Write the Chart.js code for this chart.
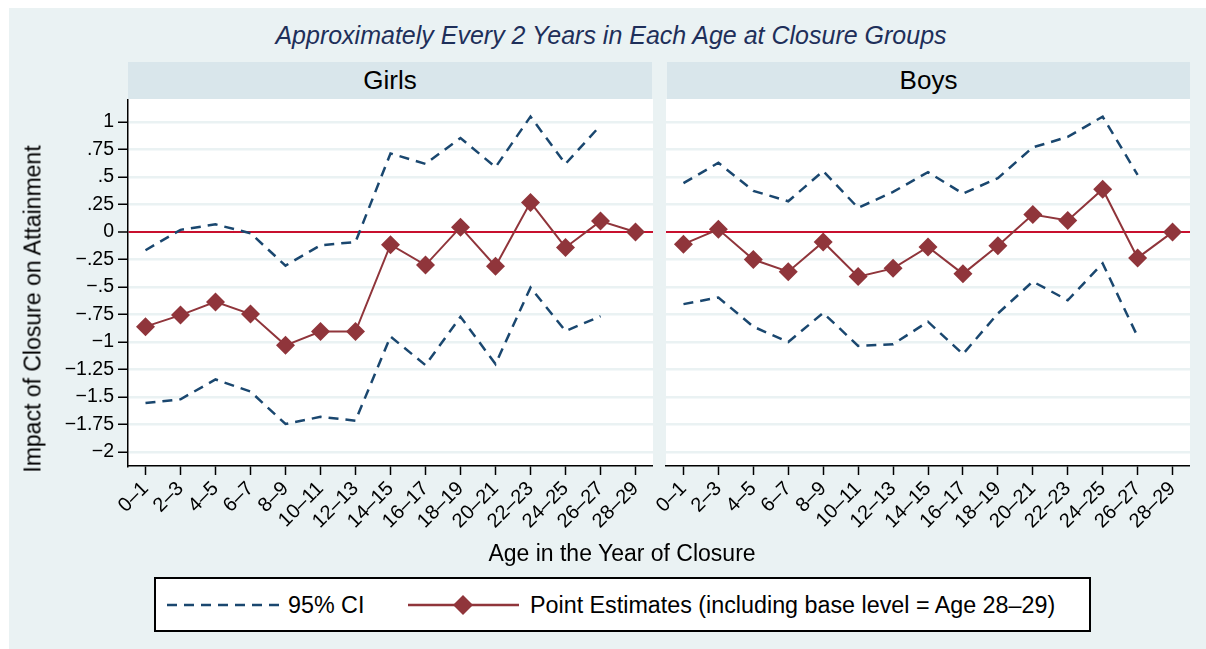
<!DOCTYPE html>
<html>
<head>
<meta charset="utf-8">
<script src="https://cdn.jsdelivr.net/npm/chart.js@4.4.1/dist/chart.umd.min.js"></script>
<style>
    body { margin: 0; background: #fff; font-family: "Liberation Sans", Arial, sans-serif; }
    #wrap { position: relative; width: 1206px; height: 649px; overflow: hidden; background: #fff; }
    #bg { position: absolute; left: 9px; top: 8px; right: 0; bottom: 0; background: #eaf2f3; }
    .abs { position: absolute; }
    #title { left: 0; width: 1222px; top: 21px; line-height: 28px; text-align: center;
             font-size: 25px; font-style: italic; color: #1e2f5a; }
    .strip { top: 62px; height: 37px; line-height: 37px; background: #d9e6eb; text-align: center;
             font-size: 26px; color: #000; }
    #ytitle { left: 33px; top: 309px; transform: translate(-50%, -50%) rotate(-90deg);
              white-space: nowrap; font-size: 23px; }
    #xtitle { left: 0; width: 1244px; top: 539px; line-height: 28px; text-align: center; font-size: 23px; }
    #legend { left: 154px; top: 577px; width: 933px; height: 51px; background: #fff; border: 2px solid #000; }
    .ltext { top: 12px; line-height: 28px; font-size: 23.3px; white-space: nowrap; }
    canvas { position: absolute; }
</style>
</head>
<body>
<div id="wrap">
    <div id="bg"></div>
    <div id="title" class="abs">Approximately Every 2 Years in Each Age at Closure Groups</div>
    <div class="abs strip" style="left:128px;width:524px">Girls</div>
    <div class="abs strip" style="left:667px;width:523px">Boys</div>
    <canvas id="girlsChart" width="623" height="442" style="left:30px;top:99px"></canvas>
    <canvas id="boysChart" width="550" height="442" style="left:640px;top:99px"></canvas>
    <div id="ytitle" class="abs">Impact of Closure on Attainment</div>
    <div id="xtitle" class="abs">Age in the Year of Closure</div>
    <div id="legend" class="abs">
        <svg class="abs" style="left:11px;top:14px" width="112" height="24">
            <line x1="0" y1="12" x2="112" y2="12" stroke="#1a476f" stroke-width="2.5" stroke-dasharray="10,7"/>
        </svg>
        <div class="abs ltext" style="left:132px">95% CI</div>
        <svg class="abs" style="left:252px;top:2px" width="111" height="48">
            <line x1="0" y1="24" x2="111" y2="24" stroke="#90353b" stroke-width="2.5"/>
            <polygon points="55,14 65,24 55,34 45,24" fill="#90353b"/>
        </svg>
        <div class="abs ltext" style="left:374px">Point Estimates (including base level = Age 28&#8211;29)</div>
    </div>
</div>
<script>
const ageGroups = ['0–1', '2–3', '4–5', '6–7', '8–9', '10–11', '12–13', '14–15',
                   '16–17', '18–19', '20–21', '22–23', '24–25', '26–27', '28–29'];

const girlsEst   = [-0.86, -0.755, -0.635, -0.745, -1.03, -0.905, -0.905, -0.115, -0.3, 0.045, -0.31, 0.27, -0.14, 0.1, 0];
const girlsUpper = [-0.165, 0.02, 0.07, -0.01, -0.305, -0.12, -0.09, 0.715, 0.62, 0.855, 0.59, 1.05, 0.62, 0.97, null];
const girlsLower = [-1.555, -1.52, -1.34, -1.45, -1.745, -1.68, -1.715, -0.95, -1.21, -0.77, -1.2, -0.505, -0.9, -0.765, null];

const boysEst   = [-0.11, 0.025, -0.25, -0.36, -0.09, -0.405, -0.33, -0.135, -0.38, -0.125, 0.16, 0.105, 0.39, -0.235, 0];
const boysUpper = [0.445, 0.63, 0.375, 0.28, 0.555, 0.22, 0.365, 0.545, 0.35, 0.49, 0.77, 0.865, 1.05, 0.52, null];
const boysLower = [-0.655, -0.595, -0.86, -1.0, -0.735, -1.035, -1.02, -0.815, -1.11, -0.74, -0.45, -0.62, -0.285, -0.95, null];

const yTicks = [1, 0.75, 0.5, 0.25, 0, -0.25, -0.5, -0.75, -1, -1.25, -1.5, -1.75, -2];

const ciColor = '#1a476f';
const estColor = '#90353b';
const zeroColor = '#c8102e';
const gridColor = '#eaf2f3';

// Stata style labels: ".25", "−1.25"
function stataNum(v) {
    if (v === 0) return '0';
    let s = Math.abs(v).toString().replace(/^0\./, '.');
    return (v < 0 ? '\u2212' : '') + s;
}

const plotBackground = {
    id: 'plotBackground',
    beforeDraw(chart) {
        const a = chart.chartArea;
        const ctx = chart.ctx;
        ctx.save();
        ctx.fillStyle = '#fff';
        ctx.fillRect(a.left, a.top, a.right - a.left, a.bottom - a.top);
        ctx.restore();
    }
};

function makePanel(id, est, upper, lower, showY) {
    const ctx = document.getElementById(id).getContext('2d');
    return new Chart(ctx, {
        type: 'line',
        data: {
            labels: ageGroups,
            datasets: [
                {
                    label: 'Point Estimates',
                    data: est,
                    borderColor: estColor,
                    borderWidth: 2,
                    pointStyle: 'rectRot',
                    pointRadius: 9.5,
                    pointBackgroundColor: estColor,
                    pointBorderWidth: 0,
                    tension: 0,
                    order: 0
                },
                {
                    label: 'Upper CI',
                    data: upper,
                    borderColor: ciColor,
                    borderWidth: 2.5,
                    borderDash: [10, 7],
                    pointRadius: 0,
                    tension: 0,
                    order: 1
                },
                {
                    label: 'Lower CI',
                    data: lower,
                    borderColor: ciColor,
                    borderWidth: 2.5,
                    borderDash: [10, 7],
                    pointRadius: 0,
                    tension: 0,
                    order: 1
                }
            ]
        },
        options: {
            responsive: false,
            animation: false,
            devicePixelRatio: 1,
            layout: { padding: 0, autoPadding: false },
            plugins: {
                legend: { display: false },
                tooltip: { enabled: false }
            },
            scales: {
                x: {
                    type: 'category',
                    offset: true,
                    grid: {
                        offset: false,
                        drawOnChartArea: false,
                        drawTicks: true,
                        tickLength: 9,
                        tickColor: '#000',
                        tickWidth: 1.5
                    },
                    border: { display: true, color: '#000', width: 1.5 },
                    ticks: {
                        autoSkip: false,
                        minRotation: 45,
                        maxRotation: 45,
                        padding: 2,
                        color: '#000',
                        font: { family: 'Liberation Sans', size: 20 }
                    },
                    afterFit(scale) {
                        scale.height = 75;
                        scale.paddingLeft = 0;
                        scale.paddingRight = 0;
                    }
                },
                y: {
                    min: -2.127,
                    max: 1.21,
                    afterBuildTicks(scale) {
                        scale.ticks = yTicks.map(v => ({ value: v }));
                    },
                    grid: {
                        drawTicks: showY,
                        tickLength: 10,
                        tickColor: '#000',
                        tickWidth: 1.5,
                        color: c => (c.tick && c.tick.value === 0) ? zeroColor : gridColor,
                        lineWidth: c => (c.tick && c.tick.value === 0) ? 2 : 2.5
                    },
                    border: { display: showY, color: '#000', width: 1.5 },
                    ticks: {
                        display: showY,
                        padding: 4,
                        color: '#000',
                        font: { family: 'Liberation Sans', size: 19.5 },
                        callback: v => stataNum(v)
                    },
                    afterFit(scale) {
                        scale.width = showY ? 98 : 26;
                        scale.paddingTop = 0;
                        scale.paddingBottom = 0;
                    }
                }
            }
        },
        plugins: [plotBackground]
    });
}

makePanel('girlsChart', girlsEst, girlsUpper, girlsLower, true);
makePanel('boysChart', boysEst, boysUpper, boysLower, false);
</script>
</body>
</html>
